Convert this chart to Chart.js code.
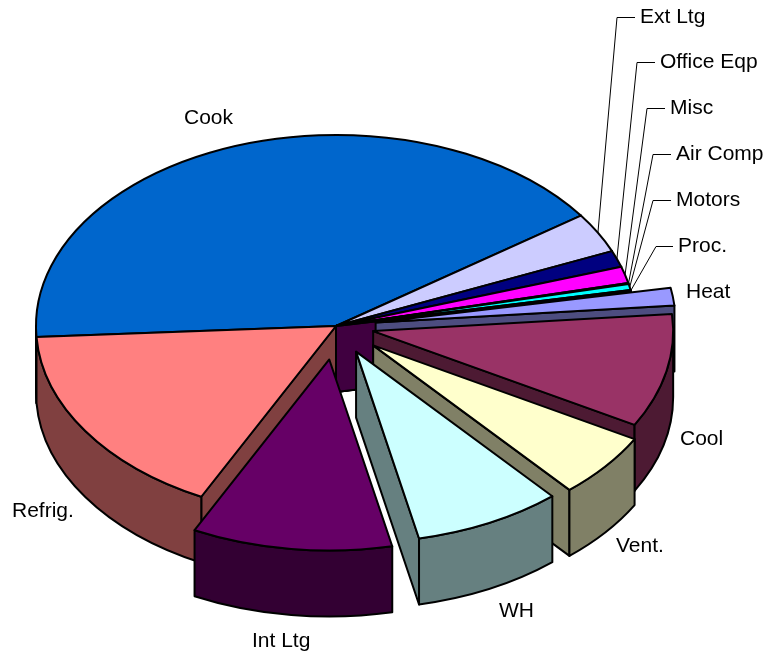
<!DOCTYPE html>
<html lang="en">
<head>
  <meta charset="UTF-8" />
  <title>End use pie</title>
  <script src="https://cdn.jsdelivr.net/npm/chart.js"></script>
  <style>
    * { margin: 0; padding: 0; }
    body { background: #fff; width: 768px; height: 658px; overflow: hidden; }
    canvas { display: block; }
  </style>
</head>
<body>
  <canvas id="pie" width="768" height="658"></canvas>
  <script>
    // Data, in the order the slices run clockwise
    const categories = ['Heat', 'Cool', 'Vent.', 'WH', 'Int Ltg', 'Refrig.', 'Cook', 'Ext Ltg', 'Office Eqp', 'Misc', 'Air Comp', 'Motors', 'Proc.'];
    const shares = [1.5, 9.6, 5.5, 8.0, 10.8, 16.7, 41.2, 3.4, 1.4, 1.4, 0.1, 0.5, 0.1];
    const colors = ['#9999FF', '#993366', '#FFFFCC', '#CCFFFF', '#660066', '#FF8080', '#0066CC', '#CCCCFF', '#000080', '#FF00FF', '#FFFF00', '#00FFFF', '#800080'];
    const explode = [40, 38, 48, 45, 53, 0, 0, 0, 0, 0, 0, 0, 0];

    // Look of the fake 3D
    const squash = 0.637;
    const depth = 66;

    // Label placement: [x, middle y, elbow x] - elbow only where there is a leader line
    const labelPlace = {
      'Cook': [184, 118], 'Ext Ltg': [640, 17, 617], 'Office Eqp': [660, 62, 637], 'Misc': [670, 108, 647],
      'Air Comp': [676, 154, 653], 'Motors': [676, 200, 653], 'Proc.': [678, 246, 656], 'Heat': [686, 292],
      'Cool': [680, 439], 'Vent.': [616, 546], 'WH': [499, 611], 'Int Ltg': [252, 641], 'Refrig.': [12, 511]
    };

    function dark(hex) {
      const n = parseInt(hex.slice(1), 16);
      const half = v => Math.round(v / 2);
      return `rgb(${half(n >> 16)},${half((n >> 8) & 255)},${half(n & 255)})`;
    }

    function sliceCenter(arc, i) {
      const mid = (arc.startAngle + arc.endAngle) / 2;
      return {
        x: arc.x + Math.cos(mid) * explode[i],
        y: arc.y + Math.sin(mid) * explode[i] * squash
      };
    }

    function drawWall(ctx, c, r, angle, color) {
      const ex = c.x + Math.cos(angle) * r;
      const ey = c.y + Math.sin(angle) * r * squash;
      ctx.beginPath();
      ctx.moveTo(c.x, c.y);
      ctx.lineTo(ex, ey);
      ctx.lineTo(ex, ey + depth);
      ctx.lineTo(c.x, c.y + depth);
      ctx.closePath();
      ctx.fillStyle = color;
      ctx.fill();
      ctx.stroke();
    }

    function drawRim(ctx, c, r, from, to, color) {
      ctx.beginPath();
      ctx.ellipse(c.x, c.y, r, r * squash, 0, from, to);
      ctx.ellipse(c.x, c.y + depth, r, r * squash, 0, to, from, true);
      ctx.closePath();
      ctx.fillStyle = color;
      ctx.fill();
      ctx.stroke();
    }

    const pie3d = {
      id: 'pie3d',
      beforeDatasetsDraw(chart) {
        const ctx = chart.ctx;
        const arcs = chart.getDatasetMeta(0).data;
        const TAU = Math.PI * 2;
        const backness = arc => {
          let mid = ((arc.startAngle + arc.endAngle) / 2) % TAU;
          if (mid < 0) mid += TAU;
          let d = Math.abs(mid - Math.PI / 2);
          return d > Math.PI ? TAU - d : d;
        };
        const order = arcs.map((a, i) => i).sort((a, b) => backness(arcs[b]) - backness(arcs[a]));

        ctx.save();
        ctx.lineWidth = 2;
        ctx.lineJoin = 'round';
        ctx.strokeStyle = '#000';
        order.forEach(i => {
          const arc = arcs[i];
          const c = sliceCenter(arc, i);
          const r = arc.outerRadius;
          const side = dark(colors[i]);
          if (Math.cos(arc.startAngle) < 0) drawWall(ctx, c, r, arc.startAngle, side);
          if (Math.cos(arc.endAngle) > 0) drawWall(ctx, c, r, arc.endAngle, side);

          let s = arc.startAngle % TAU;
          if (s < 0) s += TAU;
          const e = s + (arc.endAngle - arc.startAngle);
          [0, TAU].forEach(base => {
            const from = Math.max(s, base);
            const to = Math.min(e, base + Math.PI);
            if (to > from) drawRim(ctx, c, r, from, to, side);
          });

          // top face comes from the arc element itself
          ctx.save();
          ctx.translate(c.x, c.y);
          ctx.scale(1, squash);
          ctx.translate(-arc.x, -arc.y);
          arc.draw(ctx);
          ctx.restore();

          ctx.beginPath();
          ctx.moveTo(c.x, c.y);
          ctx.ellipse(c.x, c.y, r, r * squash, 0, arc.startAngle, arc.endAngle);
          ctx.closePath();
          ctx.stroke();
        });
        ctx.restore();
        return false;
      },
      afterDraw(chart) {
        const ctx = chart.ctx;
        const arcs = chart.getDatasetMeta(0).data;
        ctx.save();
        ctx.font = '21px "Liberation Sans", Arial, sans-serif';
        ctx.textAlign = 'left';
        ctx.textBaseline = 'middle';
        ctx.fillStyle = '#000';
        ctx.strokeStyle = '#000';
        ctx.lineWidth = 1;
        categories.forEach((name, i) => {
          const [x, y, elbow] = labelPlace[name];
          ctx.fillText(name, x, y);
          if (elbow === undefined) return;
          const arc = arcs[i];
          const mid = (arc.startAngle + arc.endAngle) / 2;
          ctx.beginPath();
          ctx.moveTo(x - 5, y + 0.5);
          ctx.lineTo(elbow, y + 0.5);
          ctx.lineTo(arc.x + Math.cos(mid) * arc.outerRadius, arc.y + Math.sin(mid) * arc.outerRadius * squash);
          ctx.stroke();
        });
        ctx.restore();
      }
    };

    new Chart(document.getElementById('pie'), {
      type: 'pie',
      data: {
        labels: categories,
        datasets: [{ data: shares, backgroundColor: colors, borderWidth: 0 }]
      },
      options: {
        responsive: false,
        animation: false,
        rotation: 79.5,
        radius: 300,
        layout: { padding: { right: 96, bottom: 6 } },
        events: [],
        plugins: { legend: { display: false }, tooltip: { enabled: false } }
      },
      plugins: [pie3d]
    });
  </script>
</body>
</html>
